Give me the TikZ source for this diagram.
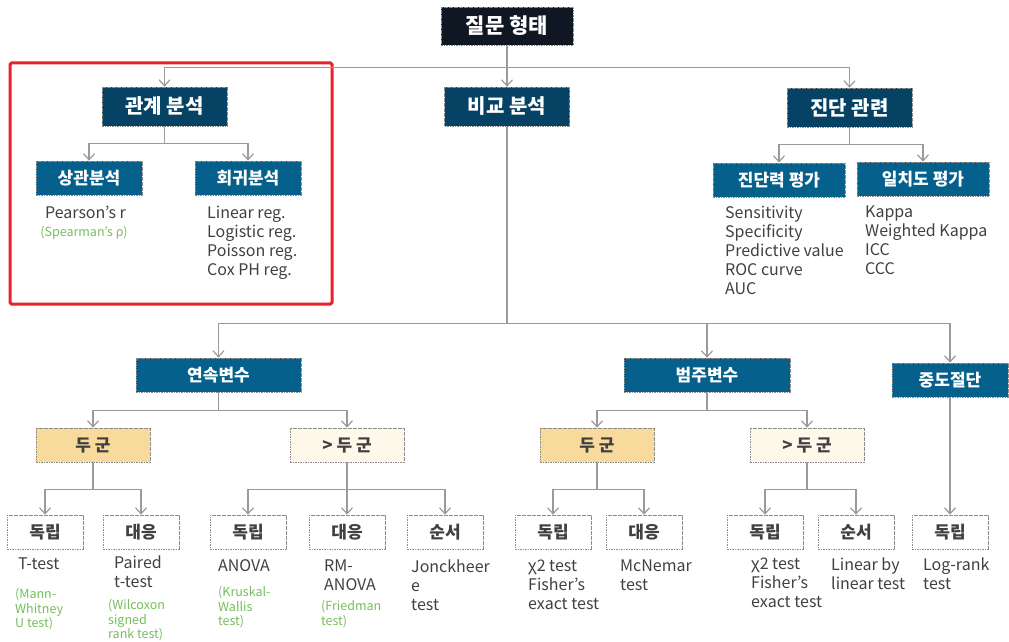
\documentclass[tikz,border=0pt]{standalone}
\usepackage{fontspec}
\setmainfont{Noto Sans CJK KR}
\usetikzlibrary{arrows.meta}
\definecolor{topc}{HTML}{0F1723}
\definecolor{lvone}{HTML}{064264}
\definecolor{lvtwo}{HTML}{05608C}
\definecolor{yel}{HTML}{F8DA9C}
\definecolor{crm}{HTML}{FEF8EA}
\definecolor{lnc}{HTML}{9A9A9A}
\definecolor{bdr}{HTML}{8C8C8C}
\definecolor{txt}{HTML}{404040}
\definecolor{grn}{HTML}{74BE5C}
\definecolor{redc}{HTML}{E8212B}
\begin{document}
\begin{tikzpicture}[x=1pt,y=-1pt,
  box/.style={rectangle, draw=bdr, dash pattern=on 1.6pt off 0.9pt, line width=0.7pt, inner sep=0pt, minimum height=34pt},
  topbox/.style={box, fill=topc, text=white, font=\fontsize{21}{24}\selectfont\bfseries, minimum width=132pt, minimum height=38pt},
  onebox/.style={box, fill=lvone, text=white, font=\fontsize{20}{24}\selectfont\bfseries, minimum width=125pt, minimum height=39pt},
  twobox/.style={box, fill=lvtwo, text=white, font=\fontsize{17}{20}\selectfont\bfseries},
  yelbox/.style={box, fill=yel, text=txt, font=\fontsize{17}{20}\selectfont\bfseries, minimum width=114pt},
  crmbox/.style={box, fill=crm, text=txt, font=\fontsize{17}{20}\selectfont\bfseries, minimum width=114pt},
  leaf/.style={box, fill=white, text=txt, font=\fontsize{17}{20}\selectfont\bfseries, minimum width=76pt},
  arr/.style={draw=lnc, line width=1.3pt, -{Straight Barb[length=6pt,width=11pt,line width=1.2pt]}},
  lst/.style={anchor=north west, inner sep=0pt, align=left, text=txt, font=\fontsize{16}{19}\selectfont},
  gtx/.style={anchor=north west, inner sep=0pt, align=left, text=grn, font=\fontsize{12.5}{14.7}\selectfont},
]
\useasboundingbox (0,0) rectangle (1009,642);
% red frame
\draw[redc, line width=3pt, rounded corners=1.5pt] (10,63) rectangle (332,304);

% nodes
\node[topbox] (top) at (507,26) {질문 형태};
\node[onebox] (rel) at (164.5,106.5) {관계 분석};
\node[onebox] (cmp) at (507,106.5) {비교 분석};
\node[onebox] (dia) at (849.5,107.5) {진단 관련};

\node[twobox, minimum width=106pt] (cor) at (89,178) {상관분석};
\node[twobox, minimum width=106pt] (reg) at (248,178) {회귀분석};
\node[twobox, minimum width=132pt] (acc) at (779,180) {진단력 평가};
\node[twobox, minimum width=132pt] (agr) at (923,179) {일치도 평가};

\node[twobox, minimum width=165pt] (con) at (218.5,375) {연속변수};
\node[twobox, minimum width=166pt] (cat) at (707,375) {범주변수};
\node[twobox, minimum width=116pt] (cen) at (950,380) {중도절단};

\node[yelbox] (ctwo) at (93,445) {두 군};
\node[crmbox] (cmore) at (347,445) {> 두 군};
\node[yelbox] (ktwo) at (597,445) {두 군};
\node[crmbox] (kmore) at (807,445) {> 두 군};

\node[leaf] (la) at (45,532) {독립};
\node[leaf] (lb) at (141,532) {대응};
\node[leaf] (lc) at (248,532) {독립};
\node[leaf] (ld) at (347,532) {대응};
\node[leaf] (le) at (445,532) {순서};
\node[leaf] (lf) at (553,532) {독립};
\node[leaf] (lg) at (644,532) {대응};
\node[leaf] (lh) at (765,532) {독립};
\node[leaf] (li) at (856,532) {순서};
\node[leaf] (lj) at (950,532) {독립};

% connectors
\draw[arr] (top.south) -- ++(0,22) -| (rel.north);
\draw[arr] (top.south) -- ++(0,22) -| (dia.north);
\draw[arr] (top.south) -- (cmp.north);

\draw[arr] (rel.south) -- ++(0,17) -| (cor.north);
\draw[arr] (rel.south) -- ++(0,17) -| (reg.north);
\draw[arr] (dia.south) -- ++(0,17) -| (acc.north);
\draw[arr] (dia.south) -- ++(0,17) -| (agr.north);

\draw[arr] (cmp.south) -- ++(0,197) -| (con.north);
\draw[arr] (cmp.south) -- ++(0,197) -| (cat.north);
\draw[arr] (cmp.south) -- ++(0,197) -| (cen.north);

\draw[arr] (con.south) -- ++(0,18) -| (ctwo.north);
\draw[arr] (con.south) -- ++(0,18) -| (cmore.north);
\draw[arr] (cat.south) -- ++(0,18) -| (ktwo.north);
\draw[arr] (cat.south) -- ++(0,18) -| (kmore.north);

\draw[arr] (ctwo.south) -- ++(0,27) -| (la.north);
\draw[arr] (ctwo.south) -- ++(0,27) -| (lb.north);
\draw[arr] (cmore.south) -- ++(0,27) -| (lc.north);
\draw[arr] (cmore.south) -- (ld.north);
\draw[arr] (cmore.south) -- ++(0,27) -| (le.north);
\draw[arr] (ktwo.south) -- ++(0,27) -| (lf.north);
\draw[arr] (ktwo.south) -- ++(0,27) -| (lg.north);
\draw[arr] (kmore.south) -- ++(0,27) -| (lh.north);
\draw[arr] (kmore.south) -- ++(0,27) -| (li.north);
\draw[arr] (cen.south) -- (lj.north);

% text lists
\node[lst, anchor=north, align=center] (tpear) at (85.5,206) {Pearson’s r};
\node[gtx, anchor=north, align=center] (tspear) at (84,226) {(Spearman’s ρ)};
\node[lst] (treg) at (207,206) {Linear reg.\\Logistic reg.\\Poisson reg.\\Cox PH reg.};
\node[lst] (tsens) at (725,206) {Sensitivity\\Specificity\\Predictive value\\ROC curve\\AUC};
\node[lst] (tkap) at (865,206) {Kappa\\Weighted Kappa\\ICC\\CCC};

\node[lst] (tt) at (18,558) {T-test};
\node[gtx] (tmw) at (15,588) {(Mann-\\Whitney\\U test)};
\node[lst] (tpt) at (114,556) {Paired\\t-test};
\node[gtx] (twil) at (108,599) {(Wilcoxon\\signed\\rank test)};
\node[lst] (tan) at (218,559) {ANOVA};
\node[gtx] (tkw) at (218,586) {(Kruskal-\\Wallis\\test)};
\node[lst] (trm) at (324,560) {RM-\\ANOVA};
\node[gtx] (tfr) at (321,600) {(Friedman\\test)};
\node[lst] (tjo) at (411,560) {Jonckheer\\e\\test};

\node[lst] (tchia) at (528,560) {χ2 test\\Fisher’s\\exact test};
\node[lst] (tmc) at (620,560) {McNemar\\test};
\node[lst] (tchib) at (751,558) {χ2 test\\Fisher’s\\exact test};
\node[lst] (tlin) at (831,558) {Linear by\\linear test};
\node[lst] (tlog) at (923,558) {Log-rank\\test};
\end{tikzpicture}
\end{document}
